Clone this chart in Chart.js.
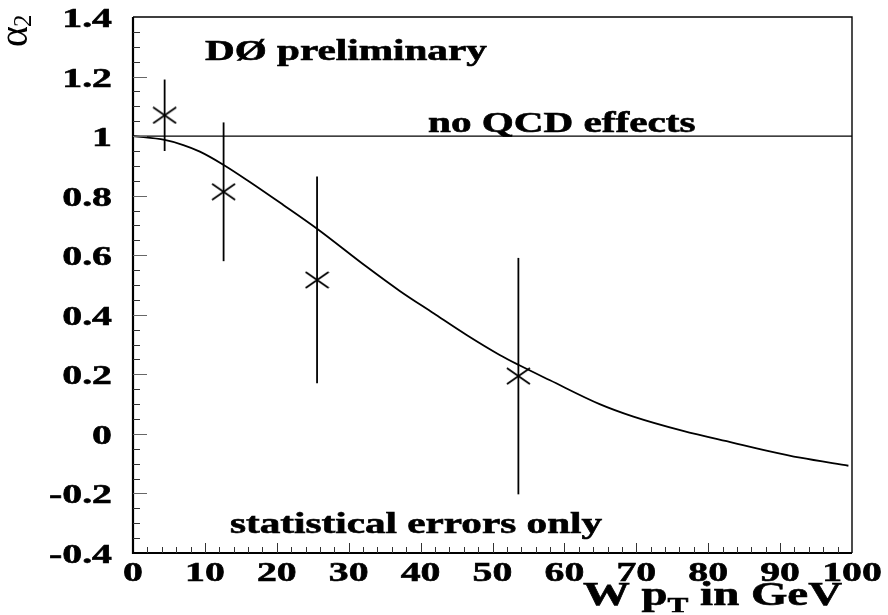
<!DOCTYPE html>
<html>
<head>
<meta charset="utf-8">
<script src="https://cdn.jsdelivr.net/npm/chart.js@4.4.1/dist/chart.umd.min.js"></script>
<style>
  html, body { margin: 0; padding: 0; background: #fff; }
  #wrap { width: 888px; height: 615px; }
</style>
</head>
<body>
<div id="wrap"><canvas id="c" width="888" height="615"></canvas></div>
<script>
// Axis ranges and tick labels
const xTickLabels = [0, 10, 20, 30, 40, 50, 60, 70, 80, 90, 100];
const yTickLabels = [1.4, 1.2, 1, 0.8, 0.6, 0.4, 0.2, 0, -0.2, -0.4];
const xMinorStep = 2;
const yMinorStep = 0.05;

// Measured alpha_2 vs W pT (statistical errors only)
const wPt = [4.4, 12.6, 25.6, 53.6];
const alpha2 = [1.07, 0.813, 0.517, 0.194];
const alpha2Err = [0.12, 0.233, 0.347, 0.397];

// QCD prediction curve
const curvePt = [0, 4.4, 7.0, 9.3, 12.5, 16.2, 20.9, 25.6, 32.5, 37.1, 41.8, 46.4, 51.0, 53.6, 58.0, 64.9, 69.6, 76.5, 83.5, 88.1, 92.8, 99.5];
const curveAlpha2 = [1.0, 0.987, 0.970, 0.948, 0.905, 0.847, 0.769, 0.689, 0.561, 0.480, 0.405, 0.332, 0.265, 0.232, 0.180, 0.100, 0.058, 0.010, -0.030, -0.056, -0.080, -0.107];

// Reference level without QCD effects
const noQcdLevel = 1;

const FONT = '"Liberation Serif", "Times New Roman", serif';
const SX = 1.42; // horizontal stretch of all lettering

// X-shaped marker, a little wider than tall
function makeCross(w, h, lw) {
  const c = document.createElement('canvas');
  c.width = w; c.height = h;
  const g = c.getContext('2d');
  g.strokeStyle = '#000';
  g.lineWidth = lw;
  g.beginPath();
  g.moveTo(1, 1); g.lineTo(w - 1, h - 1);
  g.moveTo(w - 1, 1); g.lineTo(1, h - 1);
  g.stroke();
  return c;
}
const crossMarker = makeCross(25, 18, 1.8);

function sText(ctx, str, x, y, size, align, weight) {
  ctx.save();
  ctx.font = (weight || 'bold') + ' ' + size + 'px ' + FONT;
  const w = ctx.measureText(str).width * SX;
  let left = x;
  if (align === 'center') left = x - w / 2;
  else if (align === 'right') left = x - w;
  ctx.translate(left, y);
  ctx.scale(SX, 1);
  ctx.textAlign = 'left';
  ctx.textBaseline = 'alphabetic';
  ctx.fillStyle = '#000';
  ctx.strokeStyle = '#000';
  ctx.lineWidth = 0.6;
  ctx.fillText(str, 0, 0);
  ctx.strokeText(str, 0, 0);
  ctx.restore();
  return w;
}

const frame = {
  id: 'frame',
  afterDatasetsDraw(chart) {
    const ctx = chart.ctx;
    const xs = chart.scales.x, ys = chart.scales.y;
    // error bars
    ctx.save();
    ctx.strokeStyle = '#000';
    ctx.lineWidth = 1.8;
    for (let i = 0; i < wPt.length; i++) {
      const px = xs.getPixelForValue(wPt[i]);
      ctx.beginPath();
      ctx.moveTo(px, ys.getPixelForValue(alpha2[i] + alpha2Err[i]));
      ctx.lineTo(px, ys.getPixelForValue(alpha2[i] - alpha2Err[i]));
      ctx.stroke();
    }
    ctx.restore();
  },
  afterDraw(chart) {
    const ctx = chart.ctx;
    const xs = chart.scales.x, ys = chart.scales.y;
    const a = chart.chartArea;
    ctx.save();
    // box
    ctx.strokeStyle = '#000';
    ctx.lineWidth = 1.4;
    ctx.beginPath();
    ctx.moveTo(a.left, a.top); ctx.lineTo(a.right, a.top); ctx.lineTo(a.right, a.bottom);
    ctx.stroke();
    ctx.lineWidth = 2.2;
    ctx.beginPath();
    ctx.moveTo(a.left, a.top); ctx.lineTo(a.left, a.bottom); ctx.lineTo(a.right, a.bottom);
    ctx.stroke();

    // y ticks (inward)
    const yMin = yTickLabels[yTickLabels.length - 1], yMax = yTickLabels[0];
    const nY = Math.round((yMax - yMin) / yMinorStep);
    for (let k = 1; k < nY; k++) {
      const v = yMin + k * yMinorStep;
      const major = k % 4 === 0;
      const py = Math.round(ys.getPixelForValue(v)) + 0.5;
      ctx.strokeStyle = major ? '#666' : '#333';
      ctx.lineWidth = 1;
      ctx.beginPath();
      ctx.moveTo(a.left, py);
      ctx.lineTo(a.left + (major ? 14 : 7), py);
      ctx.stroke();
    }
    // x ticks (inward)
    const nX = Math.round((100 - 0) / xMinorStep);
    for (let k = 1; k < nX; k++) {
      const v = k * xMinorStep;
      const major = k % 5 === 0;
      const px = Math.round(xs.getPixelForValue(v)) + 0.5;
      ctx.strokeStyle = '#333';
      ctx.lineWidth = 1;
      ctx.beginPath();
      ctx.moveTo(px, a.bottom);
      ctx.lineTo(px, a.bottom - (major ? 10 : 6));
      ctx.stroke();
    }

    // tick labels
    yTickLabels.forEach(v => {
      const py = ys.getPixelForValue(v);
      sText(ctx, String(v), a.left - 21, py + 10, 28, 'right');
    });
    xTickLabels.forEach(v => {
      const px = xs.getPixelForValue(v);
      sText(ctx, String(v), px, 581, 28, 'center');
    });

    // annotations
    sText(ctx, 'DØ preliminary', 205, 60, 29, 'left');
    sText(ctx, 'no QCD effects', 428, 132, 29, 'left');
    sText(ctx, 'statistical errors only', 230, 533, 29, 'left');

    // x title: W p_T in GeV (right aligned)
    ctx.font = 'bold 33px ' + FONT;
    const w1 = ctx.measureText('W p').width * SX;
    ctx.font = 'bold 22px ' + FONT;
    const w2 = ctx.measureText('T').width * SX;
    ctx.font = 'bold 33px ' + FONT;
    const w3 = ctx.measureText(' in GeV').width * SX;
    let left = 842 - (w1 + w2 + w3);
    sText(ctx, 'W p', left, 605, 33, 'left');
    sText(ctx, 'T', left + w1, 612, 22, 'left');
    sText(ctx, ' in GeV', left + w1 + w2, 605, 33, 'left');

    // y title: alpha_2, rotated
    ctx.save();
    ctx.translate(27, 47);
    ctx.rotate(-Math.PI / 2);
    ctx.fillStyle = '#000';
    ctx.font = '40px ' + FONT;
    ctx.textAlign = 'left';
    ctx.fillText('α', 0, 0);
    const aw = ctx.measureText('α').width;
    ctx.font = '25px ' + FONT;
    ctx.fillText('2', aw - 1, 4);
    ctx.restore();

    ctx.restore();
  }
};

new Chart(document.getElementById('c'), {
  type: 'scatter',
  data: {
    datasets: [
      {
        label: 'no QCD effects',
        data: [{ x: 0, y: noQcdLevel }, { x: 100, y: noQcdLevel }],
        showLine: true,
        borderColor: '#000',
        borderWidth: 1.1,
        pointRadius: 0
      },
      {
        label: 'QCD',
        data: curvePt.map((x, i) => ({ x, y: curveAlpha2[i] })),
        showLine: true,
        borderColor: '#000',
        borderWidth: 1.8,
        cubicInterpolationMode: 'monotone',
        pointRadius: 0
      },
      {
        label: 'data',
        data: wPt.map((x, i) => ({ x, y: alpha2[i] })),
        showLine: false,
        pointStyle: crossMarker,
        pointRadius: 10,
        borderColor: '#000',
        backgroundColor: '#000'
      }
    ]
  },
  options: {
    responsive: false,
    animation: false,
    devicePixelRatio: 1,
    layout: { padding: { left: 133, right: 36, top: 17, bottom: 62 } },
    plugins: { legend: { display: false }, tooltip: { enabled: false } },
    scales: {
      x: { type: 'linear', min: 0, max: 100, display: false },
      y: { type: 'linear', min: -0.4, max: 1.4, display: false }
    }
  },
  plugins: [frame]
});
</script>
</body>
</html>
